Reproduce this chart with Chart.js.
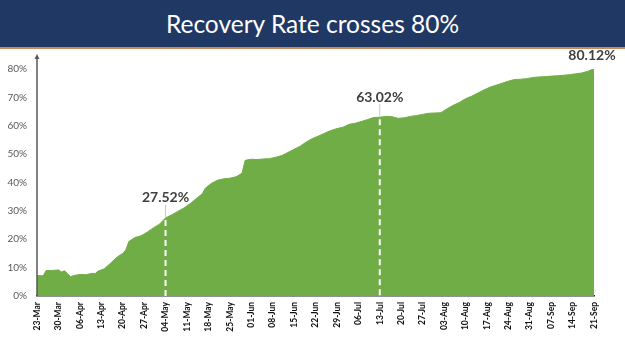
<!DOCTYPE html>
<html>
<head>
<meta charset="utf-8">
<script src="https://cdn.jsdelivr.net/npm/chart.js@4.4.1/dist/chart.umd.min.js"></script>
<style>
  html, body { margin: 0; padding: 0; background: #fff; }
  #wrap { position: relative; width: 625px; height: 351px; overflow: hidden; }
  #banner {
    position: absolute; left: 0; top: 0; width: 625px; height: 47px;
    background: #1f3864; border-bottom: 2px solid #c98b5e;
    color: #fff; font-family: Lato, sans-serif; font-size: 24.5px;
    text-align: center; line-height: 48px; z-index: 2;
  }
  #chartBox { position: absolute; left: 0; top: 0; width: 625px; height: 351px; }
</style>
</head>
<body>
<div id="wrap">
  <div id="banner">Recovery Rate crosses 80%</div>
  <div id="chartBox"><canvas id="recoveryChart" width="625" height="351"></canvas></div>
</div>
<script>
// days since 23-Mar and recovery rate (%)
var days = [0, 2, 3, 5, 7, 8, 9, 10, 11, 12, 14, 16, 18, 19, 20, 22, 24, 26, 28, 29,
  30, 32, 34, 36, 38, 40, 42, 44, 46, 48, 50, 52, 54, 55, 57, 59, 61, 63, 65, 66,
  67, 68, 70, 72, 74, 76, 78, 80, 82, 84, 86, 88, 90, 92, 94, 96, 98, 100, 102, 104,
  106, 108, 110, 112, 114, 116, 118, 120, 122, 124, 126, 128, 130, 132, 134, 136, 138, 140, 142, 144,
  146, 148, 150, 152, 154, 156, 158, 160, 162, 164, 166, 168, 170, 172, 174, 176, 178, 180, 182];
var recovery = [7.2, 7.1, 9.0, 9.0, 9.2, 8.5, 8.9, 7.8, 6.8, 7.2, 7.6, 7.5, 8.0, 7.9, 8.8, 9.6, 11.5, 13.6, 15.0, 16.2,
  19.2, 20.6, 21.2, 22.5, 24.0, 25.3, 27.52, 28.6, 29.8, 31.0, 32.5, 34.3, 36.0, 38.0, 39.7, 40.8, 41.3, 41.5, 42.0, 42.6,
  43.3, 47.8, 48.2, 48.1, 48.3, 48.4, 48.9, 49.5, 50.6, 51.7, 52.8, 54.3, 55.5, 56.4, 57.4, 58.3, 59.0, 59.5, 60.5, 60.9,
  61.5, 62.2, 62.9, 63.02, 63.3, 63.2, 62.6, 62.8, 63.3, 63.6, 64.0, 64.4, 64.5, 64.6, 66.0, 67.2, 68.2, 69.5, 70.4, 71.5,
  72.6, 73.6, 74.3, 75.0, 75.7, 76.3, 76.4, 76.6, 77.0, 77.2, 77.3, 77.5, 77.6, 77.8, 78.0, 78.3, 78.6, 79.2, 80.12];

var weekLabels = ['23-Mar', '30-Mar', '06-Apr', '13-Apr', '20-Apr', '27-Apr', '04-May', '11-May', '18-May',
  '25-May', '01-Jun', '08-Jun', '15-Jun', '22-Jun', '29-Jun', '06-Jul', '13-Jul', '20-Jul', '27-Jul',
  '03-Aug', '10-Aug', '17-Aug', '24-Aug', '31-Aug', '07-Sep', '14-Sep', '21-Sep'];

// highlighted points: day index and label
var markDays = [42, 112, 182];
var markLabels = ['27.52%', '63.02%', '80.12%'];

var points = days.map(function(d, i) { return { x: d, y: recovery[i] }; });

var markerPlugin = {
    id: 'markers',
    afterDatasetsDraw: function(chart) {
        var ctx = chart.ctx;
        var xs = chart.scales.x, ys = chart.scales.y;
        var area = chart.chartArea;
        ctx.save();
        // y axis with arrow
        ctx.strokeStyle = '#595959';
        ctx.fillStyle = '#595959';
        ctx.lineWidth = 1.5;
        ctx.beginPath();
        ctx.moveTo(area.left, area.bottom);
        ctx.lineTo(area.left, area.top - 12);
        ctx.stroke();
        ctx.beginPath();
        ctx.moveTo(area.left - 2.5, area.top - 10);
        ctx.lineTo(area.left, area.top - 15);
        ctx.lineTo(area.left + 2.5, area.top - 10);
        ctx.fill();

        markDays.forEach(function(d, i) {
            var val = recovery[days.indexOf(d)];
            var x = xs.getPixelForValue(d);
            var y = ys.getPixelForValue(val);
            var last = i === markDays.length - 1;
            if (!last) {
                ctx.setLineDash([6, 4]);
                ctx.strokeStyle = '#ffffff';
                ctx.lineWidth = 2;
                ctx.beginPath();
                ctx.moveTo(x, y + 2);
                ctx.lineTo(x, area.bottom);
                ctx.stroke();
                ctx.setLineDash([]);
                ctx.strokeStyle = '#c8c8c8';
                ctx.lineWidth = 1;
                ctx.beginPath();
                ctx.moveTo(x, y);
                ctx.lineTo(x, y - 13);
                ctx.stroke();
            }
            ctx.fillStyle = '#404040';
            ctx.font = 'bold 14px Lato';
            ctx.textAlign = 'center';
            ctx.textBaseline = 'bottom';
            ctx.fillText(markLabels[i], last ? x - 2 : x, last ? y - 6 : y - 13);
        });
        ctx.restore();
    }
};

document.addEventListener("DOMContentLoaded", function() {
    var ctx = document.getElementById('recoveryChart').getContext('2d');
    var chart = new Chart(ctx, {
        type: 'line',
        data: {
            datasets: [{
                data: points,
                borderColor: '#70ad47',
                backgroundColor: '#70ad47',
                borderWidth: 1,
                fill: 'origin',
                pointRadius: 0,
                tension: 0
            }]
        },
        options: {
            responsive: false,
            animation: false,
            events: [],
            layout: { padding: { top: 69, right: 31, left: 0, bottom: 0 } },
            plugins: { legend: { display: false }, tooltip: { enabled: false } },
            scales: {
                x: {
                    type: 'linear',
                    min: 0,
                    max: 182,
                    grid: { display: false, drawTicks: false },
                    border: { display: true, color: '#262626', width: 1.5 },
                    afterFit: function(scale) { scale.height = 55; },
                    afterBuildTicks: function(scale) {
                        scale.ticks = weekLabels.map(function(l, i) { return { value: i * 7 }; });
                    },
                    ticks: {
                        autoSkip: false,
                        maxRotation: 90,
                        minRotation: 90,
                        padding: 6,
                        color: '#111111',
                        font: { family: 'Lato', size: 8.5, weight: 'bold' },
                        callback: function(v) { return weekLabels[Math.round(v / 7)]; }
                    }
                },
                y: {
                    min: 0,
                    max: 80,
                    grid: { display: false, drawTicks: false },
                    border: { display: false },
                    afterFit: function(scale) { scale.width = 37; },
                    ticks: {
                        stepSize: 10,
                        padding: 10,
                        color: '#595959',
                        font: { family: 'Lato', size: 10 },
                        callback: function(v) { return v + '%'; }
                    }
                }
            }
        },
        plugins: [markerPlugin]
    });
});
</script>
</body>
</html>
